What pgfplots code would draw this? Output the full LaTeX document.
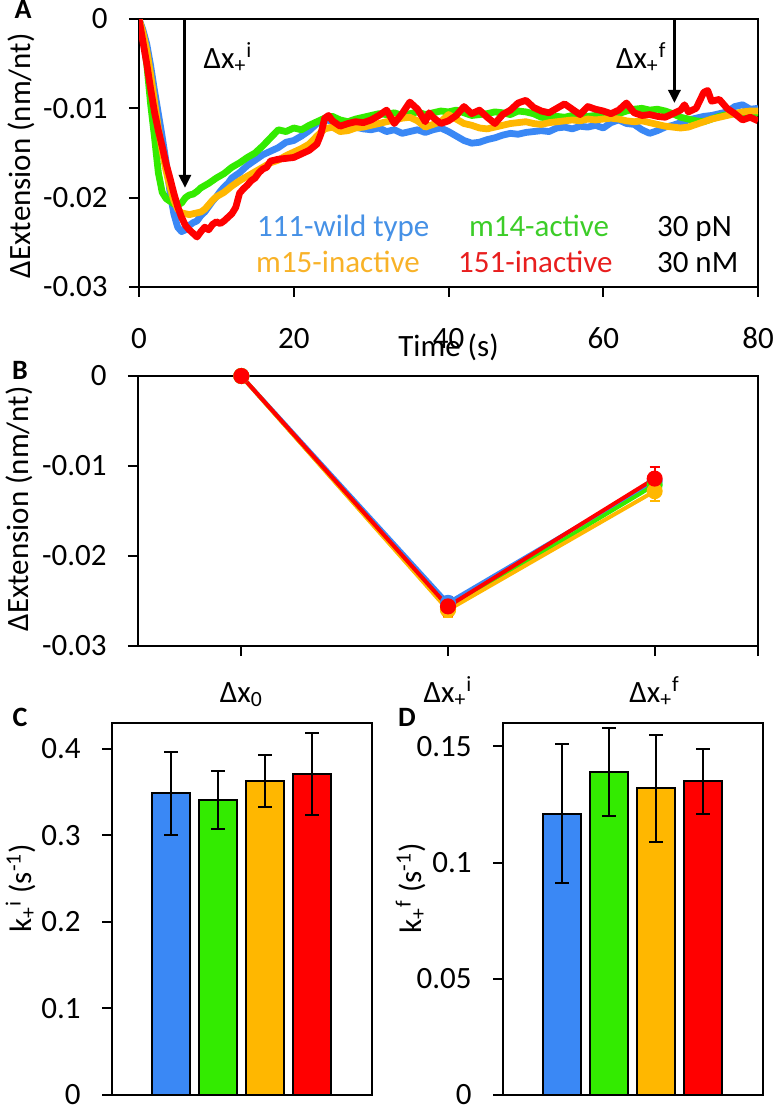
\documentclass[border=0pt]{standalone}
\usepackage{fontspec}
\setmainfont{Carlito}
\usepackage{pgfplots}
\pgfplotsset{compat=1.18}
\usetikzlibrary{arrows.meta}
\newcommand\fs{\fontsize{15.5bp}{18bp}\selectfont}
\definecolor{cblue}{RGB}{58,136,245}
\definecolor{cgreen}{RGB}{51,235,0}
\definecolor{corange}{RGB}{255,183,0}
\definecolor{cred}{RGB}{255,0,0}
\definecolor{tblue}{RGB}{70,145,230}
\definecolor{tgreen}{RGB}{60,205,40}
\definecolor{torange}{RGB}{248,178,40}
\definecolor{tred}{RGB}{232,30,30}
\pgfplotsset{
  myaxis/.style={
    scale only axis,
    axis line style={line width=1bp},
    every tick/.style={black, line width=1bp},
    major tick length=5bp,
    tick align=outside,
    xtick pos=bottom, ytick pos=left,
    /pgf/number format/assume math mode=true,
    tick label style={font=\fs, inner sep=0pt},
    yticklabel style={anchor=east, xshift=-10.5bp},
    label style={font=\fs},
    scaled ticks=false,
  },
  trace/.style={line width=3.4bp, line join=round, mark=none},
  bpt/.style={line width=2bp, mark=*, mark size=3bp,
    error bars/y dir=both, error bars/y explicit,
    error bars/error bar style={line width=1bp},
    error bars/error mark options={rotate=90, mark size=2.5bp, line width=1bp}},
  kbar/.style={ybar, bar width=19bp, bar shift=0pt, draw=black, line width=1bp,
    error bars/y dir=both, error bars/y explicit,
    error bars/error bar style={black, line width=1bp},
    error bars/error mark options={black, rotate=90, mark size=3.3bp, line width=1bp}},
}
\begin{document}
\begin{tikzpicture}[font=\fs]
\useasboundingbox (0,0) rectangle (386.5bp,-554bp);
% ---------------- Panel A ----------------
\begin{axis}[myaxis, at={(69.5bp,-9.5bp)}, anchor=north west,
  width=309.5bp, height=134bp,
  xmin=0, xmax=80, ymin=-0.03, ymax=0,
  xtick={0,20,40,60,80}, xticklabels={0,20,40,60,80},
  ytick={-0.03,-0.02,-0.01,0}, yticklabels={-0.03,-0.02,-0.01,0},
  xticklabel style={anchor=base, yshift=-25.5bp},
  xlabel={Time (s)},
  xlabel style={at={(axis description cs:0.5,0)}, anchor=base, yshift=-34.5bp},
  ylabel={ΔExtension (nm/nt)},
  ylabel style={at={(axis description cs:-0.176,0.49)}, anchor=base},
]
\addplot[trace, color=cblue] coordinates {
(0,0) (0.5,-0.0012) (1,-0.0028) (1.5,-0.0052) (2,-0.0080) (2.5,-0.0106) (3,-0.0132) (3.5,-0.0160)
(4,-0.0193) (4.5,-0.0218) (5,-0.0233) (5.5,-0.0238) (6,-0.0236) (6.5,-0.0231) (7,-0.0228) (7.5,-0.0226)
(8,-0.0220) (8.5,-0.0216) (9,-0.0210) (9.5,-0.0204) (10,-0.0199) (10.5,-0.0193) (11,-0.0188) (11.5,-0.0184)
(12,-0.0178) (13,-0.0172) (14,-0.0164) (15,-0.0158) (16,-0.0152) (17,-0.0148) (18,-0.0144) (19,-0.0138)
(20,-0.0136) (21,-0.0131) (22,-0.0125) (23,-0.0117) (24,-0.0113) (25,-0.0114) (26,-0.0117) (27,-0.0119)
(28,-0.0121) (29,-0.0123) (30,-0.0124) (31,-0.0122) (32,-0.0126) (33,-0.0124) (34,-0.0128) (35,-0.0126)
(36,-0.0124) (37,-0.0127) (38,-0.0124) (39,-0.0122) (40,-0.0126) (41,-0.0131) (42,-0.0136) (43,-0.0139)
(44,-0.0138) (45,-0.0135) (46,-0.0133) (47,-0.0130) (48,-0.0128) (49,-0.0129) (50,-0.0127) (51,-0.0126)
(52,-0.0125) (53,-0.0126) (54,-0.0122) (55,-0.0121) (56,-0.0123) (57,-0.0120) (58,-0.0121) (59,-0.0119)
(60,-0.0122) (61,-0.0116) (62,-0.0113) (63,-0.0117) (64,-0.0118) (65,-0.0124) (66,-0.0128) (67,-0.0125)
(68,-0.0121) (69,-0.0119) (70,-0.0116) (71,-0.0113) (72,-0.0111) (73,-0.0109) (74,-0.0108) (75,-0.0106)
(76,-0.0104) (77,-0.0098) (78,-0.0096) (79,-0.0101) (80,-0.0100)
};
\addplot[trace, color=cgreen] coordinates {
(0,0) (0.5,-0.0018) (1,-0.0050) (1.5,-0.0095) (2,-0.0132) (2.5,-0.0172) (3,-0.0194) (3.5,-0.0201)
(4,-0.0204) (4.5,-0.0207) (5,-0.0208) (5.5,-0.0206) (6,-0.0200) (6.5,-0.0197) (7,-0.0196) (7.5,-0.0193)
(8,-0.0189) (9,-0.0184) (10,-0.0178) (11,-0.0173) (12,-0.0166) (13,-0.0161) (14,-0.0155) (15,-0.0150)
(16,-0.0142) (17,-0.0133) (18,-0.0124) (19,-0.0126) (20,-0.0122) (21,-0.0124) (22,-0.0119) (23,-0.0115)
(24,-0.0111) (25,-0.0109) (26,-0.0113) (27,-0.0115) (28,-0.0112) (29,-0.0110) (30,-0.0108) (31,-0.0106)
(32,-0.0107) (33,-0.0105) (34,-0.0108) (35,-0.0106) (36,-0.0104) (37,-0.0107) (38,-0.0105) (39,-0.0103)
(40,-0.0104) (41,-0.0102) (42,-0.0105) (43,-0.0108) (44,-0.0107) (45,-0.0106) (46,-0.0104) (47,-0.0105)
(48,-0.0107) (49,-0.0103) (50,-0.0104) (51,-0.0106) (52,-0.0110) (53,-0.0111) (54,-0.0109) (55,-0.0110)
(56,-0.0108) (57,-0.0110) (58,-0.0109) (59,-0.0108) (60,-0.0107) (61,-0.0109) (62,-0.0106) (63,-0.0103)
(64,-0.0101) (65,-0.0100) (66,-0.0102) (67,-0.0101) (68,-0.0103) (69,-0.0106) (70,-0.0110) (71,-0.0112)
(72,-0.0114) (73,-0.0115) (74,-0.0112) (75,-0.0109) (76,-0.0107) (77,-0.0106) (78,-0.0105) (79,-0.0107)
(80,-0.0105)
};
\addplot[trace, color=corange] coordinates {
(0,0) (0.5,-0.0015) (1,-0.0035) (1.5,-0.0062) (2,-0.0092) (2.5,-0.0122) (3,-0.0148) (3.5,-0.0170)
(4,-0.0188) (4.5,-0.0203) (5,-0.0213) (5.5,-0.0217) (6,-0.0218) (6.5,-0.0219) (7,-0.0218) (7.5,-0.0217)
(8,-0.0216) (8.5,-0.0213) (9,-0.0208) (9.5,-0.0203) (10,-0.0199) (11,-0.0194) (12,-0.0187) (13,-0.0181)
(14,-0.0176) (15,-0.0171) (16,-0.0166) (17,-0.0161) (18,-0.0158) (19,-0.0153) (20,-0.0149) (21,-0.0145)
(22,-0.0140) (23,-0.0131) (24,-0.0123) (25,-0.0121) (26,-0.0126) (27,-0.0125) (28,-0.0122) (29,-0.0121)
(30,-0.0119) (31,-0.0117) (32,-0.0115) (33,-0.0113) (34,-0.0111) (35,-0.0110) (36,-0.0114) (37,-0.0121)
(38,-0.0118) (39,-0.0115) (40,-0.0107) (41,-0.0112) (42,-0.0117) (43,-0.0119) (44,-0.0122) (45,-0.0123)
(46,-0.0121) (47,-0.0119) (48,-0.0117) (49,-0.0116) (50,-0.0115) (51,-0.0117) (52,-0.0118) (53,-0.0116)
(54,-0.0115) (55,-0.0114) (56,-0.0113) (57,-0.0114) (58,-0.0112) (59,-0.0113) (60,-0.0112) (61,-0.0111)
(62,-0.0112) (63,-0.0114) (64,-0.0115) (65,-0.0114) (66,-0.0116) (67,-0.0118) (68,-0.0120) (69,-0.0121)
(70,-0.0122) (71,-0.0121) (72,-0.0118) (73,-0.0115) (74,-0.0112) (75,-0.0110) (76,-0.0108) (77,-0.0106)
(78,-0.0104) (79,-0.0103) (80,-0.0103)
};
\addplot[trace, color=cred] coordinates {
(0,0) (0.5,-0.0025) (1,-0.0050) (1.5,-0.0078) (2,-0.0104) (2.5,-0.0125) (3,-0.0143) (3.5,-0.0162)
(4,-0.0178) (4.5,-0.0195) (5,-0.0210) (5.5,-0.0222) (6,-0.0231) (6.5,-0.0236) (7,-0.0240) (7.5,-0.0244)
(8,-0.0238) (8.5,-0.0233) (9,-0.0236) (9.5,-0.0230) (10,-0.0227) (10.5,-0.0229) (11,-0.0226) (11.5,-0.0222)
(12,-0.0218) (12.5,-0.0211) (13,-0.0195) (13.5,-0.0190) (14,-0.0186) (14.5,-0.0181) (15,-0.0178) (15.5,-0.0172)
(16,-0.0168) (16.5,-0.0166) (17,-0.0159) (18,-0.0157) (19,-0.0156) (20,-0.0155) (21,-0.0151) (22,-0.0147)
(23,-0.0140) (23.5,-0.0129) (24,-0.0111) (24.5,-0.0108) (25,-0.0114) (26,-0.0120) (27,-0.0117) (28,-0.0115)
(29,-0.0116) (30,-0.0113) (31,-0.0108) (32,-0.0102) (33,-0.0117) (34,-0.0106) (35,-0.0093) (36,-0.0101)
(37,-0.0115) (37.5,-0.0105) (38,-0.0110) (39,-0.0117) (40,-0.0114) (41,-0.0108) (42,-0.0098) (43,-0.0106)
(44,-0.0102) (45,-0.0110) (46,-0.0117) (47,-0.0107) (48,-0.0102) (49,-0.0094) (50,-0.0091) (51,-0.0099)
(52,-0.0103) (53,-0.0105) (54,-0.0100) (55,-0.0095) (56,-0.0101) (57,-0.0107) (58,-0.0098) (59,-0.0101)
(60,-0.0103) (61,-0.0106) (62,-0.0102) (63,-0.0094) (64,-0.0105) (65,-0.0108) (66,-0.0107) (67,-0.0109)
(68,-0.0110) (69,-0.0106) (70,-0.0102) (70.5,-0.0096) (71,-0.0104) (72,-0.0100) (73,-0.0082) (73.5,-0.0080)
(74,-0.0092) (75,-0.0090) (76,-0.0100) (77,-0.0106) (78,-0.0113) (79,-0.0110) (80,-0.0114)
};
\draw[line width=1.5bp, -{Triangle[width=6bp,length=6.5bp]}] (axis cs:5.94,0) -- (axis cs:5.94,-0.0189);
\draw[line width=1.5bp, -{Triangle[width=6bp,length=6.5bp]}] (axis cs:69.2,0) -- (axis cs:69.2,-0.0094);
\node[anchor=base west, inner sep=0pt] at (axis cs:8.3,-0.0055) {Δx\textsubscript{+}\textsuperscript{i}};
\node[anchor=base west, inner sep=0pt] at (axis cs:61.6,-0.0055) {Δx\textsubscript{+}\textsuperscript{f}};
\node[anchor=base west, inner sep=0pt, text=tblue] at (axis cs:15.2,-0.0244) {111-wild type};
\node[anchor=base west, inner sep=0pt, text=tgreen] at (axis cs:42.6,-0.0244) {m14-active};
\node[anchor=base west, inner sep=0pt] at (axis cs:66.9,-0.0244) {30 pN};
\node[anchor=base west, inner sep=0pt, text=torange] at (axis cs:15.1,-0.0284) {m15-inactive};
\node[anchor=base west, inner sep=0pt, text=tred] at (axis cs:41.2,-0.0284) {151-inactive};
\node[anchor=base west, inner sep=0pt] at (axis cs:66.9,-0.0284) {30 nM};
\end{axis}
% ---------------- Panel B ----------------
\begin{axis}[myaxis, at={(69bp,-188bp)}, anchor=north west,
  width=310bp, height=135bp, clip=false,
  xmin=-0.5, xmax=2.5, ymin=-0.03, ymax=0,
  xtick={0,1,2},
  xticklabels={{Δx\textsubscript{0}},{Δx\textsubscript{+}\textsuperscript{i}},{Δx\textsubscript{+}\textsuperscript{f}}},
  extra x ticks={2.5}, extra x tick labels={},
  xticklabel style={anchor=base, yshift=-23bp},
  ytick={-0.03,-0.02,-0.01,0}, yticklabels={-0.03,-0.02,-0.01,0},
  ylabel={ΔExtension (nm/nt)},
  ylabel style={at={(axis description cs:-0.176,0.508)}, anchor=base},
]
\addplot[color=cblue, bpt] coordinates {(0,0) +- (0,0) (1,-0.0252) +- (0,0.0007) (2,-0.0117) +- (0,0.0006)};
\addplot[color=cgreen, bpt] coordinates {(0,0) +- (0,0) (1,-0.0259) +- (0,0.0009) (2,-0.0121) +- (0,0.0006)};
\addplot[color=corange, bpt] coordinates {(0,0) +- (0,0) (1,-0.0260) +- (0,0.0008) (2,-0.0128) +- (0,0.0011)};
\addplot[color=cred, bpt] coordinates {(0,0) +- (0,0) (1,-0.0256) +- (0,0.0011) (2,-0.0114) +- (0,0.0013)};
\end{axis}
% ---------------- Panel C ----------------
\begin{axis}[myaxis, at={(56bp,-361.5bp)}, anchor=north west,
  width=130bp, height=186bp,
  xmin=-0.255, xmax=5.277, ymin=0, ymax=0.43,
  xtick=\empty,
  ytick={0,0.1,0.2,0.3,0.4}, yticklabels={0,0.1,0.2,0.3,0.4},
  ylabel={k\textsubscript{+}\textsuperscript{i} (s\textsuperscript{-1})},
  ylabel style={at={(axis description cs:-0.3115,0.556)}, anchor=base},
]
\addplot[fill=cblue, kbar] coordinates {(1,0.349) +- (0,0.048)};
\addplot[fill=cgreen, kbar] coordinates {(2,0.341) +- (0,0.033)};
\addplot[fill=corange, kbar] coordinates {(3,0.363) +- (0,0.030)};
\addplot[fill=cred, kbar] coordinates {(4,0.371) +- (0,0.047)};
\end{axis}
% ---------------- Panel D ----------------
\begin{axis}[myaxis, at={(251.5bp,-361.5bp)}, anchor=north west,
  width=130bp, height=186bp,
  xmin=-0.255, xmax=5.277, ymin=0, ymax=0.16,
  xtick=\empty,
  ytick={0,0.05,0.1,0.15}, yticklabels={0,0.05,0.1,0.15},
  ylabel={k\textsubscript{+}\textsuperscript{f} (s\textsuperscript{-1})},
  ylabel style={at={(axis description cs:-0.315,0.556)}, anchor=base},
]
\addplot[fill=cblue, kbar] coordinates {(1,0.121) +- (0,0.030)};
\addplot[fill=cgreen, kbar] coordinates {(2,0.139) +- (0,0.019)};
\addplot[fill=corange, kbar] coordinates {(3,0.132) +- (0,0.023)};
\addplot[fill=cred, kbar] coordinates {(4,0.135) +- (0,0.014)};
\end{axis}
% panel letters
\node[font=\fontsize{14bp}{16bp}\selectfont\bfseries] at (11.5bp,-4.5bp) {A};
\node[font=\fontsize{14bp}{16bp}\selectfont\bfseries] at (10bp,-185bp) {B};
\node[font=\fontsize{14bp}{16bp}\selectfont\bfseries] at (10bp,-358.5bp) {C};
\node[font=\fontsize{14bp}{16bp}\selectfont\bfseries] at (203.5bp,-358.5bp) {D};
\end{tikzpicture}
\end{document}
